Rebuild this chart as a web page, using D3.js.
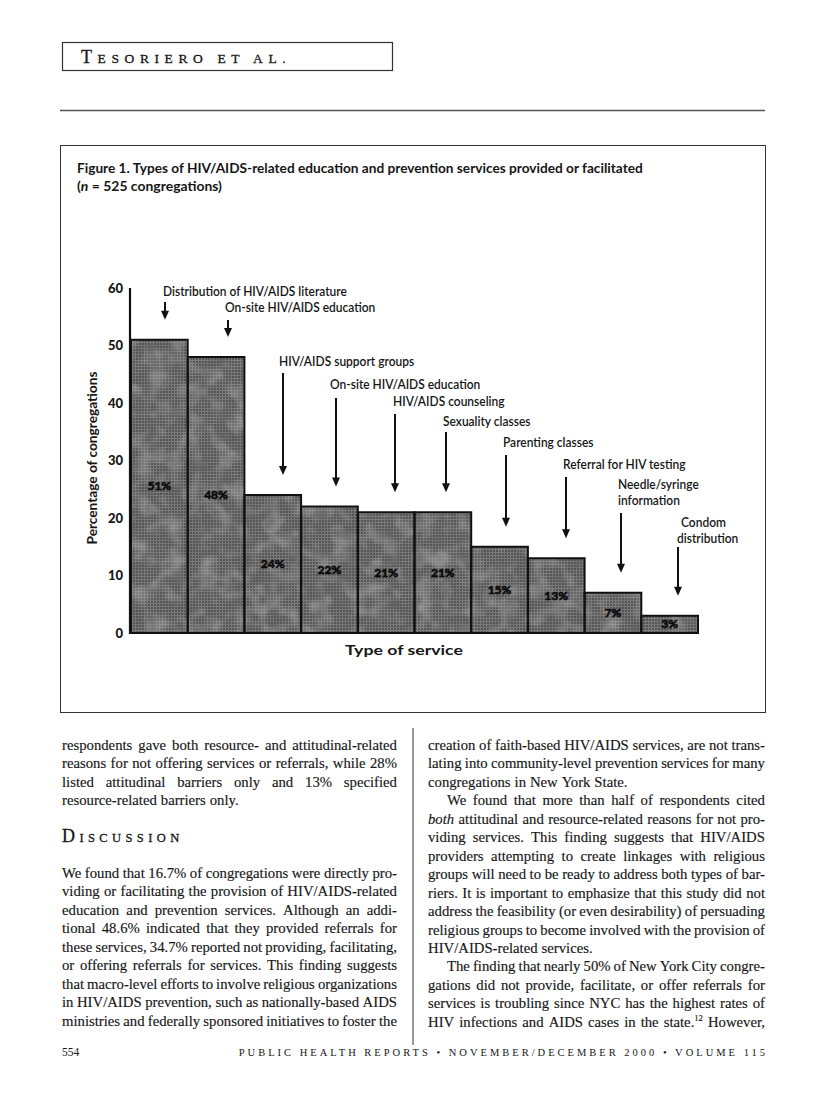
<!DOCTYPE html>
<html><head><meta charset="utf-8">
<script src="https://cdn.jsdelivr.net/npm/d3@7"></script>
<style>body{margin:0;background:#fff}svg{display:block}</style>
</head><body>
<script>
// ---------------- DATA ----------------
const categories = ["Distribution of HIV/AIDS literature","On-site HIV/AIDS education","HIV/AIDS support groups","On-site HIV/AIDS education (2)","HIV/AIDS counseling","Sexuality classes","Parenting classes","Referral for HIV testing","Needle/syringe information","Condom distribution"];
const values = [51, 48, 24, 22, 21, 21, 15, 13, 7, 3];
const valueLabels = ["51%","48%","24%","22%","21%","21%","15%","13%","7%","3%"];
const annotationLines = [["Distribution of HIV/AIDS literature"],["On-site HIV/AIDS education"],["HIV/AIDS support groups"],["On-site HIV/AIDS education"],["HIV/AIDS counseling"],["Sexuality classes"],["Parenting classes"],["Referral for HIV testing"],["Needle/syringe","information"],["Condom","distribution"]];
const yTicks = [0,10,20,30,40,50,60];
const titleLines = ["Figure 1. Types of HIV/AIDS-related education and prevention services provided or facilitated","(n = 525 congregations)"];
const yTitle = "Percentage of congregations";
const xTitle = "Type of service";

const leftBlock1 = ["respondents gave both resource- and attitudinal-related","reasons for not offering services or referrals, while 28%","listed attitudinal barriers only and 13% specified","resource-related barriers only."];
const leftBlock2 = ["We found that 16.7% of congregations were directly pro-","viding or facilitating the provision of HIV/AIDS-related","education and prevention services. Although an addi-","tional 48.6% indicated that they provided referrals for","these services, 34.7% reported not providing, facilitating,","or offering referrals for services. This finding suggests","that macro-level efforts to involve religious organizations","in HIV/AIDS prevention, such as nationally-based AIDS","ministries and federally sponsored initiatives to foster the"];
const rightLines = ["creation of faith-based HIV/AIDS services, are not trans-","lating into community-level prevention services for many","congregations in New York State.","We found that more than half of respondents cited","*both* attitudinal and resource-related reasons for not pro-","viding services. This finding suggests that HIV/AIDS","providers attempting to create linkages with religious","groups will need to be ready to address both types of bar-","riers. It is important to emphasize that this study did not","address the feasibility (or even desirability) of persuading","religious groups to become involved with the provision of","HIV/AIDS-related services.","The finding that nearly 50% of New York City congre-","gations did not provide, facilitate, or offer referrals for","services is troubling since NYC has the highest rates of","HIV infections and AIDS cases in the state.^12 However,"];
const rightIndent = [3,12];
const rightLast = [2,11];

// ---------------- LAYOUT ----------------
const W = 816, H = 1100;
const sans = "Lato, 'Open Sans', sans-serif";
const serif = "'Liberation Serif', 'DejaVu Serif', serif";
const ink = "#161616";
const annX = [163,225,279,330,393,443,503,563,618,677];
const annY = [296,312,366,389,406,426,447,469,489,527];
const arrowX = [165,228,283,336,395,446,506,566,621,678];
const arrowTop = [302,320,373,398,414,432,455,477,513,547];

const svg = d3.select("body").append("svg").attr("width",W).attr("height",H);
svg.append("rect").attr("width",W).attr("height",H).attr("fill","#fff");

function condensed(g, str, x, y, size, weight, targetW, anchor) {
  const t = g.append("text").attr("font-family",sans).attr("font-size",size).attr("font-weight",weight).attr("fill",ink).text(str);
  const w = t.node().getComputedTextLength();
  const sx = targetW ? targetW / w : 1;
  let dx = 0;
  if (anchor === "middle") dx = -w*sx/2;
  if (anchor === "end") dx = -w*sx;
  t.attr("transform", `translate(${x+dx},${y}) scale(${sx},1)`);
  return t;
}

// ---------- header ----------
svg.append("rect").attr("x",62.5).attr("y",42.5).attr("width",330).attr("height",28).attr("fill","none").attr("stroke","#333").attr("stroke-width",1.2);
const hdr = svg.append("text").attr("x",81).attr("y",62.5).attr("font-family",serif).attr("fill",ink).attr("letter-spacing","5.6px").attr("stroke",ink).attr("stroke-width",0.3);
hdr.append("tspan").attr("font-size",18).text("T");
hdr.append("tspan").attr("font-size",13.5).text("ESORIERO ");
hdr.append("tspan").attr("font-size",13.5).text("ET ");
hdr.append("tspan").attr("font-size",13.5).text("AL.");
svg.append("line").attr("x1",60).attr("x2",765).attr("y1",110.5).attr("y2",110.5).attr("stroke","#555").attr("stroke-width",1.3);

// ---------- figure box ----------
svg.append("rect").attr("x",60.5).attr("y",145.5).attr("width",705).attr("height",567).attr("fill","none").attr("stroke","#333").attr("stroke-width",1);
condensed(svg, titleLines[0], 77, 173, 13.5, 700, 566);
{
  const t = svg.append("text").attr("font-family",sans).attr("font-size",13.5).attr("font-weight",700).attr("fill",ink);
  t.append("tspan").text("(");
  t.append("tspan").attr("font-style","italic").text("n");
  t.append("tspan").text(" = 525 congregations)");
  const w = t.node().getComputedTextLength();
  t.attr("transform",`translate(77,191) scale(${145/w},1)`);
}

// ---------- chart ----------
const x = d3.scaleBand().domain(categories).range([131, 698]).padding(0);
const y = d3.scaleLinear().domain([0, 60]).range([633, 288]);

const defs = svg.append("defs");
const pat = defs.append("pattern").attr("id","tex").attr("width",3).attr("height",3).attr("patternUnits","userSpaceOnUse");
pat.append("rect").attr("width",3).attr("height",3).attr("fill","#555555");
pat.append("rect").attr("width",3).attr("height",1).attr("fill","#7e7e7e");
pat.append("rect").attr("width",1).attr("height",3).attr("fill","#7a7a7a");
const f = defs.append("filter").attr("id","mottle").attr("x",0).attr("y",0).attr("width",1).attr("height",1);
f.append("feTurbulence").attr("type","fractalNoise").attr("baseFrequency",0.07).attr("numOctaves",3).attr("seed",7).attr("result","n");
f.append("feColorMatrix").attr("in","n").attr("type","matrix").attr("values","0 0 0 0 0.1  0 0 0 0 0.1  0 0 0 0 0.1  0 0 0 0.9 -0.3").attr("result","d");
f.append("feComposite").attr("in","d").attr("in2","SourceGraphic").attr("operator","in").attr("result","d2");
f.append("feTurbulence").attr("type","fractalNoise").attr("baseFrequency",0.06).attr("numOctaves",2).attr("seed",21).attr("result","n2");
f.append("feColorMatrix").attr("in","n2").attr("type","matrix").attr("values","0 0 0 0 0.7  0 0 0 0 0.7  0 0 0 0 0.7  0 0 0 0.6 -0.26").attr("result","l");
f.append("feComposite").attr("in","l").attr("in2","SourceGraphic").attr("operator","in").attr("result","l2");
const fm = f.append("feMerge"); fm.append("feMergeNode").attr("in","SourceGraphic"); fm.append("feMergeNode").attr("in","l2"); fm.append("feMergeNode").attr("in","d2");

const bars = svg.append("g").attr("filter","url(#mottle)");
bars.selectAll("rect").data(values).join("rect")
  .attr("x",(d,i)=>x(categories[i])).attr("y",d=>y(d))
  .attr("width",x.bandwidth()).attr("height",d=>y(0)-y(d))
  .attr("fill","url(#tex)");
svg.append("g").selectAll("rect").data(values).join("rect")
  .attr("x",(d,i)=>x(categories[i])).attr("y",d=>y(d))
  .attr("width",x.bandwidth()).attr("height",d=>y(0)-y(d))
  .attr("fill","none").attr("stroke","#111").attr("stroke-width",2);

const labelG = svg.append("g").attr("font-family",sans).attr("font-size",12).attr("font-weight",700).attr("text-anchor","middle");
labelG.selectAll("text").data(values).join("text")
  .attr("x",(d,i)=>x(categories[i])+x.bandwidth()/2).attr("y",d=>y(d/2)+4)
  .style("fill","#0a0a0a").style("stroke","#0a0a0a").style("stroke-width","0.6px")
  .text((d,i)=>valueLabels[i]);

// axes
svg.append("line").attr("x1",130).attr("x2",130).attr("y1",y(60)).attr("y2",y(0)+1).attr("stroke","#111").attr("stroke-width",2.2);
svg.append("line").attr("x1",129).attr("x2",x.range()[1]+1).attr("y1",y(0)).attr("y2",y(0)).attr("stroke","#111").attr("stroke-width",2.2);
const yAxis = d3.axisLeft(y).tickValues(yTicks).tickSize(0).tickPadding(7).tickFormat(d3.format("d"));
const ya = svg.append("g").attr("transform","translate(130,0)").call(yAxis);
ya.select(".domain").remove();
ya.selectAll("text").attr("font-family",sans).attr("font-size",13).attr("font-weight",900).attr("fill",ink);

{
  const t = svg.append("text").attr("font-family",sans).attr("font-size",14).attr("font-weight",700).attr("fill",ink).text(yTitle);
  const w = t.node().getComputedTextLength(); const sx = 173/w;
  t.attr("transform",`translate(97,${458 + 173/2}) rotate(-90) scale(${sx},1)`);
}
condensed(svg, xTitle, 404, 655, 14, 700, 118, "middle");

// annotations
const annG = svg.append("g");
const refW = (()=>{const t=annG.append("text").attr("font-family",sans).attr("font-size",13.5).attr("font-weight",600).text(annotationLines[0][0]);const w=t.node().getComputedTextLength();t.remove();return w;})();
const annSx = 184/refW;
annotationLines.forEach((lines,i)=>{
  lines.forEach((s,j)=>{
    const t = annG.append("text").attr("font-family",sans).attr("font-size",13.5).attr("font-weight",600).attr("fill",ink).text(s);
    t.attr("transform",`translate(${annX[i] + (i===9 && j===0 ? 4 : 0)},${annY[i]+j*16}) scale(${annSx},1)`);
  });
  const tip = y(values[i]) - 20;
  annG.append("line").attr("x1",arrowX[i]).attr("x2",arrowX[i]).attr("y1",arrowTop[i]).attr("y2",tip-7).attr("stroke","#111").attr("stroke-width",2);
  annG.append("path").attr("d",`M${arrowX[i]-4},${tip-9}L${arrowX[i]+4},${tip-9}L${arrowX[i]},${tip}Z`).attr("fill","#111");
});

// ---------- body text ----------
const bodyG = svg.append("g").attr("font-family",serif).attr("font-size",15.5).attr("fill",ink).attr("stroke",ink).attr("stroke-width",0.15);
const lh = 18.45;
const lineSpecs = [];
leftBlock1.forEach((s,k)=>lineSpecs.push({s, x:62, w:335, y:750+k*lh, justify:k<3, indent:0}));
leftBlock2.forEach((s,k)=>lineSpecs.push({s, x:62, w:335, y:878+k*lh, justify:true, indent:0}));
rightLines.forEach((s,k)=>lineSpecs.push({s, x:428, w:337, y:750+k*lh, justify:!rightLast.includes(k), indent: rightIndent.includes(k)?19:0}));

lineSpecs.forEach(L=>{
  L.nodes = L.s.split(" ").map(wd=>{
    const t = bodyG.append("text");
    if (wd.startsWith("*") && wd.endsWith("*")) t.append("tspan").attr("font-style","italic").text(wd.slice(1,-1));
    else if (wd.includes("^")) { const [a,b]=wd.split("^"); t.append("tspan").text(a); t.append("tspan").attr("font-size",9).attr("dy",-6).text(b); }
    else t.text(wd);
    return t;
  });
  L.widths = L.nodes.map(n=>n.node().getComputedTextLength());
});
const gapMin = 3.0;
let sx = 1;
lineSpecs.filter(L=>L.justify).forEach(L=>{
  const n = L.nodes.length-1; const Wn = d3.sum(L.widths);
  sx = Math.min(sx, (L.w - L.indent - n*gapMin)/Wn);
});
lineSpecs.forEach(L=>{
  const n = L.nodes.length-1; const Wn = d3.sum(L.widths)*sx;
  const gap = L.justify && n>0 ? (L.w - L.indent - Wn)/n : 3.9;
  let cx = L.x + L.indent;
  L.nodes.forEach((t,i)=>{ t.attr("transform",`translate(${cx},${L.y}) scale(${sx},1)`); cx += L.widths[i]*sx + gap; });
});

// Discussion heading
const dh = svg.append("text").attr("x",62).attr("y",842).attr("font-family",serif).attr("fill",ink).attr("letter-spacing","4.4px").attr("stroke",ink).attr("stroke-width",0.3);
dh.append("tspan").attr("font-size",18).text("D");
dh.append("tspan").attr("font-size",12.5).text("ISCUSSION");

// column rule
svg.append("line").attr("x1",413).attr("x2",413).attr("y1",728).attr("y2",1045).attr("stroke","#333").attr("stroke-width",1);

// footer
svg.append("text").attr("x",62).attr("y",1056).attr("font-family",serif).attr("font-size",11.5).attr("fill",ink).text("554");
svg.append("text").attr("x",768).attr("y",1056).attr("text-anchor","end").attr("font-family",serif).attr("font-size",10.5).attr("letter-spacing","3px").attr("fill",ink)
  .text("PUBLIC HEALTH REPORTS • NOVEMBER/DECEMBER 2000 • VOLUME 115");
</script>
</body></html>
